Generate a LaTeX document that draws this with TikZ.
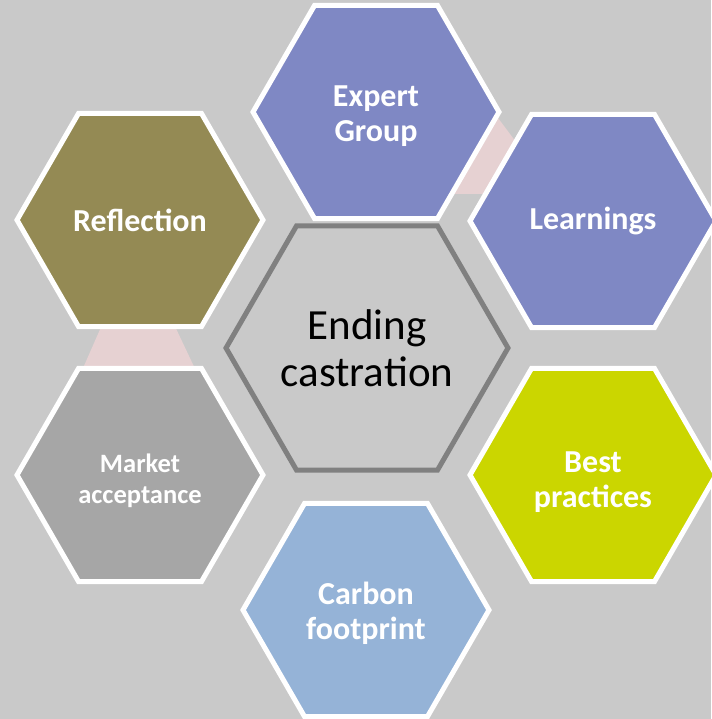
\documentclass[tikz,border=0pt]{standalone}
\usepackage{fontspec}
\setmainfont{Carlito}
\usetikzlibrary{shapes.geometric}
\definecolor{bgGray}{HTML}{C9C9C9}
\definecolor{linkPink}{HTML}{E6D1D2}
\definecolor{expertBlue}{HTML}{7F88C4}
\definecolor{reflectOlive}{HTML}{948A54}
\definecolor{marketGray}{HTML}{A6A6A6}
\definecolor{bestGreen}{HTML}{CBD600}
\definecolor{carbonBlue}{HTML}{95B3D7}
\definecolor{centerRim}{HTML}{808080}
\begin{document}
\begin{tikzpicture}[x=1pt, y=-1pt,
    hexStyle/.style={regular polygon, regular polygon sides=6, minimum size=246pt, inner sep=0pt,
        draw=white, line width=5pt, text=white, align=center,
        font=\bfseries\fontsize{32}{35}\selectfont},
    hexLabel/.style={text=white, align=center, inner sep=0pt,
        font=\bfseries\fontsize{32}{35}\selectfont},
    smallLabel/.style={hexLabel, font=\bfseries\fontsize{26.5}{31}\selectfont},
    centerHex/.style={regular polygon, regular polygon sides=6, minimum size=276pt, inner sep=0pt,
        draw=centerRim, line width=5pt, fill=bgGray, align=center,
        font=\fontsize{43}{47}\selectfont}]
    \useasboundingbox (0,0) rectangle (711,719);
    \fill[bgGray] (0,0) rectangle (711,719);

    % pink links behind the cluster
    \fill[linkPink] (105,318) -- (171,318) -- (198,375) -- (80,375) -- cycle;
    \fill[linkPink] (498,118) -- (522,150) -- (500,194) -- (450,194) -- cycle;

    \node[hexStyle, fill=expertBlue, label={[hexLabel, yshift=-4pt]center:Expert\\Group}](expert) at (376,112) {};
    \node[hexStyle, fill=expertBlue](learn) at (593,221) {Learnings};
    \node[hexStyle, fill=reflectOlive](reflect) at (140,220) {Reflection};
    \node[hexStyle, fill=marketGray, label={[smallLabel, yshift=-6pt]center:Market\\acceptance}](market) at (140,475) {};
    \node[hexStyle, fill=bestGreen, label={[hexLabel, yshift=-7pt]center:Best\\practices}](best) at (593,475) {};
    \node[hexStyle, fill=carbonBlue, label={[hexLabel, yshift=-3pt]center:Carbon\\footprint}](carbon) at (366,610) {};
    \node[centerHex](core) at (367,348) {Ending\\castration};
\end{tikzpicture}
\end{document}
